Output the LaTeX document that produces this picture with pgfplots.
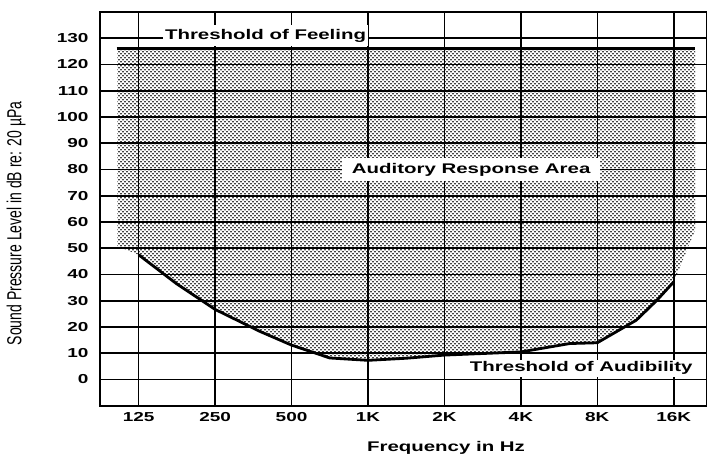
\documentclass[border=0pt]{standalone}
\usepackage{pgfplots}
\pgfplotsset{compat=1.18}
\usepackage{fontspec}
\usetikzlibrary{patterns}
\setmainfont{Liberation Sans}
\newfontfamily\wb[FakeStretch=1.46]{Liberation Sans}
\newcommand\tickfont{\fontsize{13bp}{15bp}\selectfont\wb\bfseries}
\newcommand\labfont{\fontsize{14bp}{16bp}\selectfont\wb\bfseries}
\pgfdeclarepatternformonly{stipple}{\pgfqpoint{-1bp}{-1bp}}{\pgfqpoint{5bp}{5bp}}{\pgfqpoint{4bp}{4bp}}{%
  \pgfpathcircle{\pgfqpoint{1bp}{1bp}}{0.9bp}%
  \pgfpathcircle{\pgfqpoint{3bp}{3bp}}{0.9bp}%
  \pgfusepath{fill}%
}
\begin{document}
\begin{tikzpicture}
\begin{axis}[
  set layers,
  scale only axis, width=607bp, height=393.75bp,
  xmin=-0.506, xmax=7.435, ymin=-10, ymax=140,
  xtick={0,...,7}, xticklabels={125,250,500,1K,2K,4K,8K,16K},
  ytick={0,10,...,130}, yticklabels={0,10,20,30,40,50,60,70,80,90,100,110,120,130},
  major tick length=0pt,
  grid=major, major grid style={black, line width=1.6bp},
  axis line style={black, line width=1.8bp},
  tick label style={font=\tickfont},
  yticklabel style={xshift=-8bp},
  xticklabel style={yshift=-3bp},
  xlabel={Frequency in Hz},
  x label style={font=\labfont, at={(axis description cs:0.570,-0.116)}, anchor=base},
  ylabel={\scalebox{1}[1.45]{Sound Pressure Level in dB re: 20 µPa}},
  y label style={font=\fontsize{14bp}{16bp}\selectfont, at={(axis description cs:-0.138,0.463)}, anchor=center},
  clip=false,
]
% auditory response area (stippled)
\addplot[draw=none, pattern=stipple, pattern color=black, on layer=axis background] coordinates {
 (-0.28,126) (7.28,126) (7.28,57) (7.0,37.2) (6.78,30.2) (6.51,22.6) (6.0,14) (5.64,13.7)
 (5.0,10.5) (4.0,9.3) (3.5,8.1) (3.0,7.3) (2.5,8.2) (2.0,13.1) (1.58,18.4) (1.0,26.7)
 (0.49,36.6) (0,47.5) (-0.28,50.8)
} -- cycle;
% threshold of feeling
\addplot[black, line width=2.8bp] coordinates {(-0.29,126) (7.28,126)};
% threshold of audibility
\addplot[black, line width=2.8bp] coordinates {
 (0,47.5) (0.49,36.6) (1.0,26.7) (1.58,18.4) (2.0,13.1) (2.5,8.2) (3.0,7.3) (3.5,8.1)
 (4.0,9.3) (5.0,10.5) (5.64,13.7) (6.0,14) (6.51,22.6) (6.78,30.2) (7.0,37.2)
};
\node[fill=white, inner xsep=2bp, inner ysep=4bp, anchor=base, font=\labfont] at (axis cs:1.66,129.7) {Threshold of Feeling};
\node[fill=white, inner xsep=10bp, inner ysep=5bp, anchor=base, font=\labfont] at (axis cs:4.35,78.5) {Auditory Response Area};
\node[fill=white, inner xsep=2bp, inner ysep=2bp, anchor=base, font=\labfont] at (axis cs:5.79,2.9) {Threshold of Audibility};
\end{axis}
\pgfresetboundingbox
\path[use as bounding box] ([shift={(-100bp,-53bp)}]current axis.south west) rectangle ([shift={(0bp,12bp)}]current axis.north east);
\end{tikzpicture}
\end{document}
